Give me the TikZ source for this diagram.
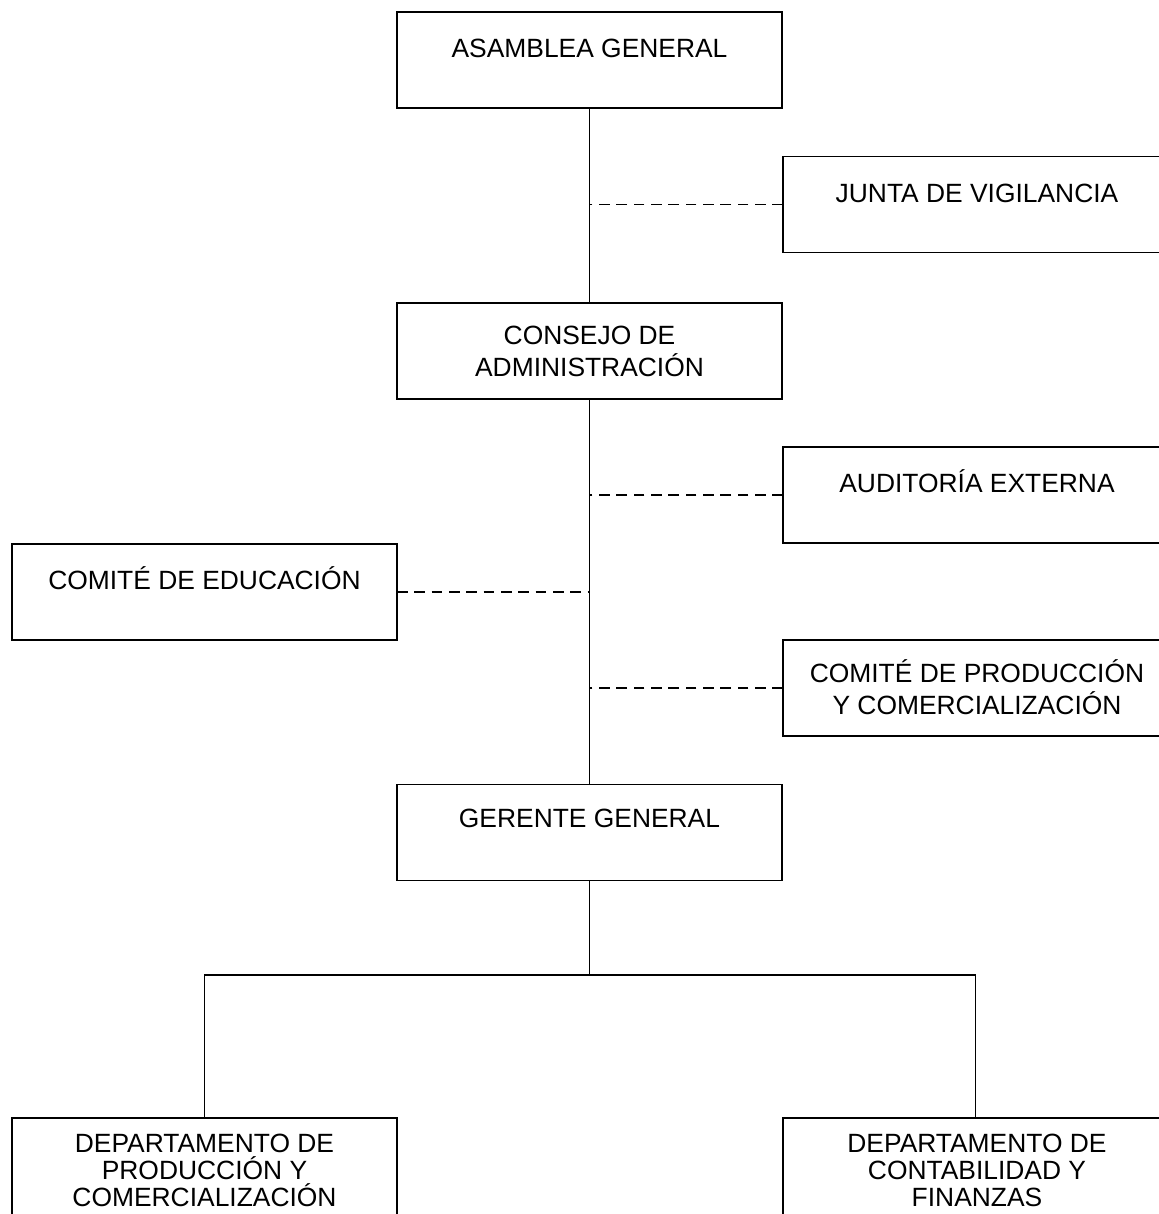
\documentclass[tikz,border=0pt]{standalone}
\usepackage{fontspec}
\setmainfont{Liberation Sans}
\begin{document}
\begin{tikzpicture}[x=0.75pt,y=-0.75pt,
  box/.style={draw, line width=1.4pt, inner sep=0pt, outer sep=0pt,
              minimum width=288.75pt, minimum height=72pt},
  tallbox/.style={box, minimum height=82pt},
  txt/.style={inner sep=0pt, align=center, font=\fontsize{19.8}{24}\selectfont},
  tighttxt/.style={txt, font=\fontsize{19.8}{20.3}\selectfont},
  solidline/.style={line width=1.4pt},
  dashline/.style={line width=1.4pt, dash pattern=on 8pt off 5pt}]
\useasboundingbox (0,0) rectangle (1159,1214);
% boxes
\node[box] (asamblea)  at (589.5,60)   {};
\node[box] (junta)     at (975.5,204.5) {};
\node[box] (consejo)   at (589.5,351)  {};
\node[box] (auditoria) at (975.5,495)  {};
\node[box] (educacion) at (204.5,592)  {};
\node[box] (comiteprod) at (975.5,688) {};
\node[box] (gerente)   at (589.5,832.5) {};
\node[tallbox] (deptprod) at (204.5,1172.7) {};
\node[tallbox] (deptcont) at (975.5,1172.7) {};
% texts
\node[txt] (asambleaT)  at (589.5,48)  {ASAMBLEA GENERAL};
\node[txt] (juntaT)     at (977,193)   {JUNTA DE VIGILANCIA};
\node[txt] (consejoT)   at (589.5,351) {CONSEJO DE\\ADMINISTRACIÓN};
\node[txt] (auditoriaT) at (977,481)   {AUDITORÍA EXTERNA};
\node[txt] (educacionT) at (204.5,578) {COMITÉ DE EDUCACIÓN};
\node[txt] (comiteprodT) at (977,687)  {COMITÉ DE PRODUCCIÓN\\Y COMERCIALIZACIÓN};
\node[txt] (gerenteT)   at (589.5,818) {GERENTE GENERAL};
\node[tighttxt] (deptprodT)  at (204.5,1170) {DEPARTAMENTO DE\\PRODUCCIÓN Y\\COMERCIALIZACIÓN};
\node[tighttxt] (deptcontT)  at (977,1170)  {DEPARTAMENTO DE\\CONTABILIDAD Y\\FINANZAS};
% connectors
\draw[solidline] (asamblea.south) -- (consejo.north);
\draw[solidline] (consejo.south) -- (gerente.north);
\draw[dashline] (junta.west) -- (junta.west -| consejo.north);
\draw[dashline] (auditoria.west) -- (auditoria.west -| consejo.south);
\draw[dashline] (educacion.east) -- (educacion.east -| consejo.south);
\draw[dashline] (comiteprod.west) -- (comiteprod.west -| consejo.south);
\coordinate (junction) at (589.5,975);
\draw[solidline] (gerente.south) -- (junction);
\draw[solidline] (deptprod.north) -- (deptprod.north |- junction) -- (deptcont.north |- junction) -- (deptcont.north);
\end{tikzpicture}
\end{document}
